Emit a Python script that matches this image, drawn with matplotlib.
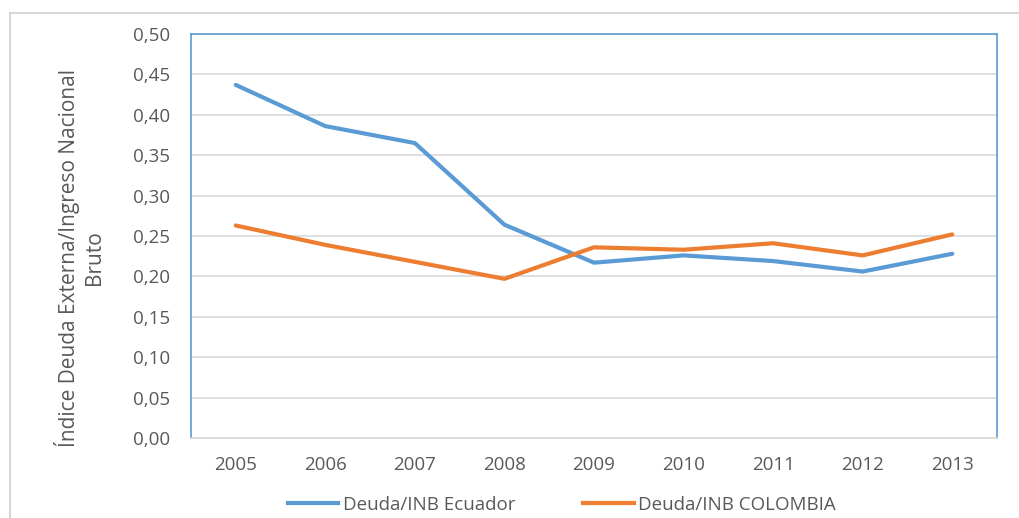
import matplotlib.pyplot as plt
from matplotlib.lines import Line2D
from matplotlib.ticker import FuncFormatter

# Deuda externa / INB, 2005-2013
years = ['2005', '2006', '2007', '2008', '2009', '2010', '2011', '2012', '2013']
ecuador = [0.437, 0.386, 0.365, 0.264, 0.217, 0.226, 0.219, 0.206, 0.228]
colombia = [0.263, 0.239, 0.218, 0.197, 0.236, 0.233, 0.241, 0.226, 0.252]

BLUE = '#5B9BD5'
ORANGE = '#ED7D31'
TXT = '#595959'

plt.rcParams['font.family'] = ['Open Sans', 'DejaVu Sans']

fig = plt.figure(figsize=(10.19, 5.18), dpi=100)
ax = fig.add_axes([191/1019, 1-438/518, (997-191)/1019, (438-34)/518])

x = range(len(years))
ax.plot(x, ecuador, color=BLUE, lw=3, solid_capstyle='round', label='Deuda/INB Ecuador')
ax.plot(x, colombia, color=ORANGE, lw=3, solid_capstyle='round', label='Deuda/INB COLOMBIA')

ax.set_xlim(-0.5, len(years)-0.5)
ax.set_ylim(0, 0.5)
ax.set_yticks([i*0.05 for i in range(11)])
ax.yaxis.set_major_formatter(FuncFormatter(lambda v, p: f'{v:.2f}'.replace('.', ',')))
ax.set_xticks(list(x))
ax.set_xticklabels(years)
ax.grid(axis='y', color='#D9D9D9', lw=1.2)
ax.set_axisbelow(True)
ax.tick_params(length=0, labelsize=13.5, colors=TXT)
ax.tick_params(axis='y', pad=15)
ax.tick_params(axis='x', pad=13)

for s in ['left', 'top', 'right']:
    ax.spines[s].set_color(BLUE)
    ax.spines[s].set_linewidth(1.2)
ax.spines['bottom'].set_color('#D9D9D9')
ax.spines['bottom'].set_linewidth(1.2)

fig.text(80/1019, 1-258/518, 'Índice Deuda Externa/Ingreso Nacional\nBruto',
         rotation=90, ha='center', va='center', fontsize=15, color=TXT,
         linespacing=1.25, multialignment='center')

# legend below the axis
handles = [Line2D([], [], color=BLUE, lw=3), Line2D([], [], color=ORANGE, lw=3)]
fig.legend(handles, ['Deuda/INB Ecuador', 'Deuda/INB COLOMBIA'],
           loc='center', bbox_to_anchor=(562/1019, 1-505/518), ncol=2,
           frameon=False, fontsize=13.5, handlelength=2.7, handletextpad=0.25,
           columnspacing=3.6, labelcolor=TXT)

# outer frame (top and left edge only)
fig.add_artist(Line2D([10/1019, 1], [1-13/518, 1-13/518], color='#D0D0D0', lw=1.2,
                      transform=fig.transFigure))
fig.add_artist(Line2D([10/1019, 10/1019], [0, 1-13/518], color='#D0D0D0', lw=1.2,
                      transform=fig.transFigure))

fig.savefig('out.png', dpi=100, facecolor='white')
